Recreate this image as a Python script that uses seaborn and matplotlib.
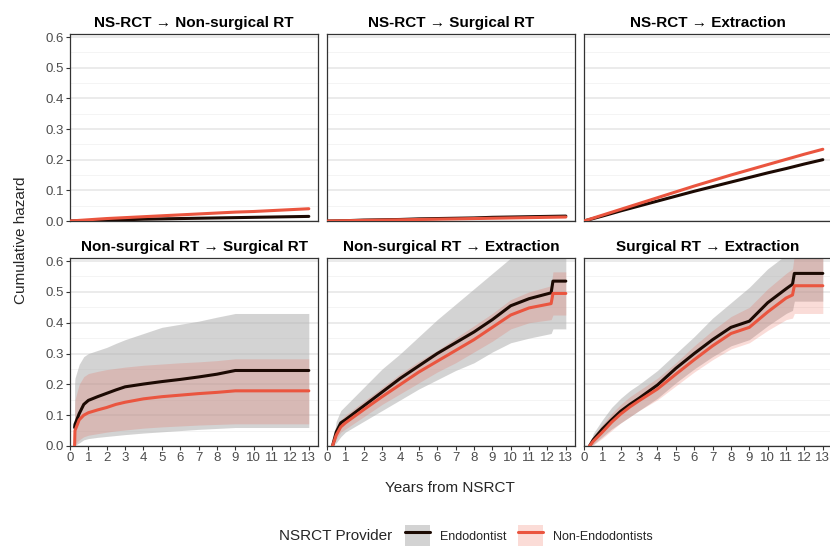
import pandas as pd
import numpy as np
import matplotlib
matplotlib.use('Agg')
import matplotlib.pyplot as plt
from matplotlib.patches import Patch
from matplotlib.lines import Line2D
from matplotlib.ticker import MultipleLocator
import seaborn as sns

sns.set_theme(style='white')
plt.rcParams['font.family'] = ['Liberation Sans', 'DejaVu Sans']

# ---- data ----
titles = ['NS-RCT \u2192 Non-surgical RT', 'NS-RCT \u2192 Surgical RT', 'NS-RCT \u2192 Extraction',
          'Non-surgical RT \u2192 Surgical RT', 'Non-surgical RT \u2192 Extraction', 'Surgical RT \u2192 Extraction']
providers = ['Endodontist', 'Non-Endodontists']

# top row: same time grid
t_top = [0, 1, 2, 3, 4, 5, 6, 7, 8, 9, 10, 11, 12, 13]
endo_1 = [0, 0.001, 0.002, 0.004, 0.006, 0.007, 0.008, 0.009, 0.010, 0.011, 0.012, 0.013, 0.014, 0.015]
non_1 = [0, 0.004, 0.008, 0.011, 0.014, 0.017, 0.020, 0.023, 0.026, 0.029, 0.031, 0.034, 0.037, 0.040]
endo_2 = [0, 0.001, 0.003, 0.004, 0.005, 0.007, 0.008, 0.009, 0.010, 0.012, 0.013, 0.014, 0.015, 0.016]
non_2 = [0, 0.001, 0.002, 0.003, 0.004, 0.005, 0.006, 0.007, 0.008, 0.009, 0.010, 0.011, 0.012, 0.013]
endo_3 = [0, 0.016, 0.033, 0.049, 0.065, 0.081, 0.097, 0.112, 0.127, 0.142, 0.157, 0.171, 0.186, 0.200]
non_3 = [0, 0.019, 0.038, 0.057, 0.076, 0.095, 0.114, 0.132, 0.150, 0.167, 0.184, 0.201, 0.218, 0.234]

# Non-surgical RT -> Surgical RT
t_4 = [0.25, 0.27, 0.5, 0.75, 1, 1.5, 2, 2.5, 3, 4, 5, 6, 7, 8, 9, 10, 11, 12, 13]
endo_4 = [0.06, 0.07, 0.105, 0.135, 0.148, 0.16, 0.171, 0.182, 0.192, 0.201, 0.209, 0.216, 0.224, 0.233, 0.245, 0.245, 0.245, 0.245, 0.245]
non_4 = [0.0, 0.05, 0.085, 0.10, 0.108, 0.117, 0.125, 0.135, 0.142, 0.153, 0.16, 0.165, 0.17, 0.174, 0.179, 0.179, 0.179, 0.179, 0.179]
endo_lo_4 = [0.0, 0.002, 0.01, 0.02, 0.024, 0.028, 0.031, 0.034, 0.037, 0.042, 0.046, 0.05, 0.054, 0.057, 0.06, 0.06, 0.06, 0.06, 0.06]
endo_hi_4 = [0.2, 0.22, 0.265, 0.29, 0.3, 0.31, 0.32, 0.333, 0.345, 0.365, 0.385, 0.395, 0.405, 0.418, 0.43, 0.43, 0.43, 0.43, 0.43]
non_lo_4 = [0.0, 0.005, 0.02, 0.03, 0.035, 0.04, 0.045, 0.049, 0.052, 0.058, 0.062, 0.065, 0.068, 0.07, 0.072, 0.072, 0.072, 0.072, 0.072]
non_hi_4 = [0.12, 0.15, 0.2, 0.225, 0.235, 0.242, 0.248, 0.252, 0.256, 0.262, 0.266, 0.27, 0.273, 0.277, 0.283, 0.283, 0.283, 0.283, 0.283]

# Non-surgical RT -> Extraction
t_5 = [0.3, 0.5, 0.75, 1, 2, 3, 4, 5, 6, 7, 8, 9, 10, 11, 12.2, 12.3, 13]
endo_5 = [0.0, 0.045, 0.075, 0.085, 0.13, 0.175, 0.22, 0.26, 0.30, 0.335, 0.37, 0.41, 0.455, 0.478, 0.497, 0.535, 0.535]
non_5 = [0.0, 0.035, 0.062, 0.075, 0.118, 0.16, 0.2, 0.24, 0.275, 0.31, 0.345, 0.385, 0.425, 0.448, 0.462, 0.495, 0.495]
endo_lo_5 = [0.0, 0.01, 0.03, 0.045, 0.08, 0.115, 0.15, 0.185, 0.215, 0.245, 0.27, 0.305, 0.335, 0.35, 0.365, 0.38, 0.38]
endo_hi_5 = [0.0, 0.08, 0.115, 0.13, 0.19, 0.25, 0.3, 0.355, 0.41, 0.46, 0.51, 0.56, 0.61, 0.64, 0.67, 0.70, 0.70]
non_lo_5 = [0.0, 0.02, 0.045, 0.055, 0.095, 0.135, 0.17, 0.205, 0.24, 0.27, 0.305, 0.34, 0.38, 0.40, 0.41, 0.425, 0.425]
non_hi_5 = [0.0, 0.055, 0.085, 0.10, 0.145, 0.19, 0.235, 0.275, 0.31, 0.35, 0.39, 0.43, 0.475, 0.50, 0.52, 0.565, 0.565]

# Surgical RT -> Extraction
t_6 = [0.3, 0.5, 1, 1.5, 2, 2.5, 3, 4, 5, 6, 7, 8, 9, 10, 11, 11.35, 11.45, 13]
endo_6 = [0.0, 0.02, 0.055, 0.085, 0.113, 0.135, 0.155, 0.198, 0.252, 0.3, 0.345, 0.385, 0.405, 0.465, 0.51, 0.525, 0.56, 0.56]
non_6 = [0.0, 0.015, 0.045, 0.077, 0.104, 0.127, 0.147, 0.185, 0.233, 0.28, 0.325, 0.365, 0.385, 0.435, 0.48, 0.49, 0.52, 0.52]
endo_lo_6 = [0.0, 0.005, 0.03, 0.055, 0.075, 0.095, 0.115, 0.155, 0.205, 0.25, 0.29, 0.325, 0.345, 0.39, 0.43, 0.44, 0.47, 0.47]
endo_hi_6 = [0.0, 0.04, 0.085, 0.125, 0.155, 0.18, 0.2, 0.245, 0.3, 0.355, 0.415, 0.465, 0.515, 0.575, 0.62, 0.63, 0.67, 0.67]
non_lo_6 = [0.0, 0.003, 0.025, 0.05, 0.075, 0.095, 0.115, 0.15, 0.195, 0.24, 0.28, 0.315, 0.335, 0.375, 0.41, 0.415, 0.43, 0.43]
non_hi_6 = [0.0, 0.03, 0.07, 0.105, 0.135, 0.16, 0.18, 0.22, 0.27, 0.325, 0.375, 0.42, 0.45, 0.51, 0.56, 0.575, 0.62, 0.62]

LINE_COLS = {'Endodontist': '#1c0a03', 'Non-Endodontists': '#ea553f'}
BAND_COLS = {'Endodontist': ('#b0b0b0', 0.55), 'Non-Endodontists': ('#e8533f', 0.2)}

panels = [
    (t_top, endo_1, non_1, None),
    (t_top, endo_2, non_2, None),
    (t_top, endo_3, non_3, None),
    (t_4, endo_4, non_4, (endo_lo_4, endo_hi_4, non_lo_4, non_hi_4)),
    (t_5, endo_5, non_5, (endo_lo_5, endo_hi_5, non_lo_5, non_hi_5)),
    (t_6, endo_6, non_6, (endo_lo_6, endo_hi_6, non_lo_6, non_hi_6)),
]

W, H = 830, 546
fig = plt.figure(figsize=(W / 100, H / 100), dpi=100)

lefts = [70, 327, 584]
pw = 248
rows = [(34, 221), (258, 446)]

for i, (t, endo, non, bands) in enumerate(panels):
    r, c = divmod(i, 3)
    top, bot = rows[r]
    ax = fig.add_axes([lefts[c] / W, 1 - bot / H, pw / W, (bot - top) / H])

    if bands is not None:
        elo, ehi, nlo, nhi = bands
        ax.fill_between(t, elo, ehi, color=BAND_COLS['Endodontist'][0],
                        alpha=BAND_COLS['Endodontist'][1], lw=0, zorder=2)
        ax.fill_between(t, nlo, nhi, color=BAND_COLS['Non-Endodontists'][0],
                        alpha=BAND_COLS['Non-Endodontists'][1], lw=0, zorder=2)

    df = pd.concat([
        pd.DataFrame({'years': t, 'hazard': endo, 'provider': 'Endodontist'}),
        pd.DataFrame({'years': t, 'hazard': non, 'provider': 'Non-Endodontists'}),
    ])
    sns.lineplot(data=df, x='years', y='hazard', hue='provider', palette=LINE_COLS,
                 estimator=None, sort=False, legend=False, linewidth=2.2, ax=ax, zorder=3)

    ax.set_xlim(0, 13.5)
    ax.set_ylim(0, 0.61)
    ax.yaxis.set_major_locator(MultipleLocator(0.1))
    ax.yaxis.set_minor_locator(MultipleLocator(0.05))
    ax.set_xticks(range(0, 14))
    ax.grid(False)
    ax.grid(True, axis='y', which='major', color='#e6e6e6', lw=1.1, zorder=0)
    ax.grid(True, axis='y', which='minor', color='#f2f2f2', lw=0.6, zorder=0)
    ax.set_axisbelow(True)
    for sp in ax.spines.values():
        sp.set_color('#333333')
        sp.set_linewidth(0.9)
    ax.set_xlabel('')
    ax.set_ylabel('')
    ax.set_title(titles[i], fontsize=11, fontweight='bold', pad=5, color='black')

    ax.tick_params(axis='both', which='major', length=3, width=0.8, color='#333333',
                   labelsize=9.5, labelcolor='#4d4d4d', pad=1.5)
    ax.tick_params(axis='y', which='minor', length=0)
    if c == 0:
        ax.set_yticklabels(['%.1f' % v for v in ax.get_yticks()])
        ax.tick_params(axis='y', left=True)
    else:
        ax.tick_params(axis='y', left=False, labelleft=False)
    if r == 1:
        ax.tick_params(axis='x', bottom=True)
    else:
        ax.tick_params(axis='x', bottom=False, labelbottom=False)

fig.text(21 / W, 1 - 240 / H, 'Cumulative hazard', rotation=90, ha='center', va='center', fontsize=11)
fig.text(450 / W, 1 - 488 / H, 'Years from NSRCT', ha='center', va='center', fontsize=11)

# legend
fig.text(392 / W, 1 - 536 / H, 'NSRCT Provider', ha='right', va='center', fontsize=11)
handles = [
    (Patch(facecolor='#d3d3d3', edgecolor='none'), Line2D([], [], color=LINE_COLS['Endodontist'], lw=2.2)),
    (Patch(facecolor='#fbdcd7', edgecolor='none'), Line2D([], [], color=LINE_COLS['Non-Endodontists'], lw=2.2)),
]
fig.legend(handles=handles, labels=providers, loc='center left',
           bbox_to_anchor=(396 / W, 1 - 536 / H), ncol=2, frameon=False,
           fontsize=9, handlelength=2.0, handleheight=2.4, handletextpad=0.8,
           columnspacing=0.9, borderpad=0.2)

fig.savefig('out.png', dpi=100)
